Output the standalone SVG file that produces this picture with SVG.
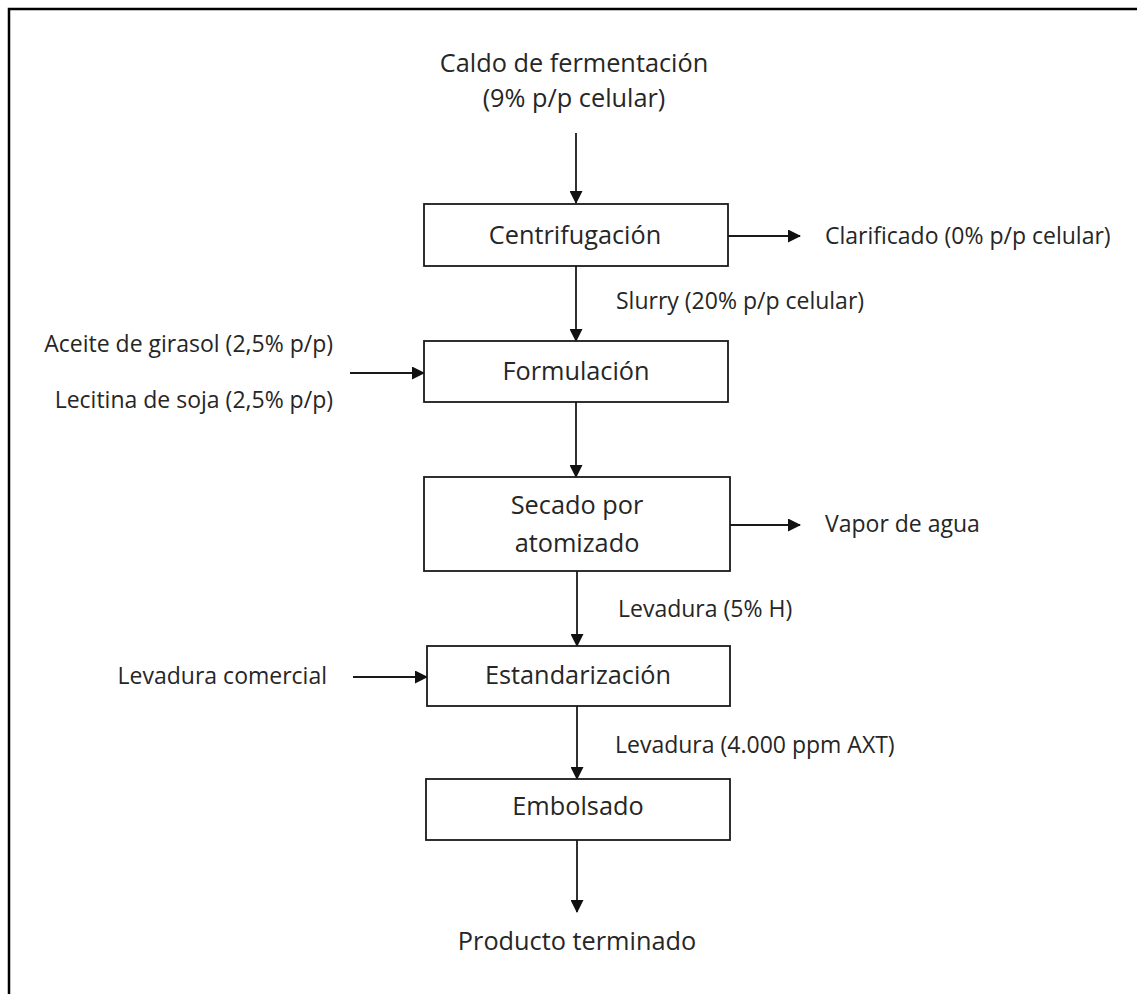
<svg xmlns="http://www.w3.org/2000/svg" width="1137" height="994" viewBox="0 0 1137 994">
<defs>
<marker id="ah" markerWidth="13" markerHeight="13" refX="12" refY="6.5" orient="auto" markerUnits="userSpaceOnUse">
<path d="M0,0 L13,6.5 L0,13 Z" fill="#111"/>
</marker>
<style>
.box{fill:#fff;stroke:#1a1a1a;stroke-width:1.8}
.t{font-family:"Open Sans","DejaVu Sans",sans-serif;fill:#262626}
.b{font-size:25.3px}
.s{font-size:23px}
.c{text-anchor:middle}
.r{text-anchor:end}
.ln{stroke:#1a1a1a;stroke-width:1.8;fill:none;marker-end:url(#ah)}
</style>
</defs>
<rect x="0" y="0" width="1137" height="994" fill="#fff"/>
<path d="M9,994 L9,9 L1137,9" fill="none" stroke="#000" stroke-width="2.5"/>
<g id="connectors">
<line class="ln" x1="576" y1="133" x2="576" y2="203"/>
<line class="ln" x1="728" y1="236" x2="800" y2="236"/>
<line class="ln" x1="576" y1="266" x2="576" y2="341"/>
<line class="ln" x1="350" y1="373" x2="424" y2="373"/>
<line class="ln" x1="576" y1="402" x2="576" y2="477"/>
<line class="ln" x1="730" y1="525" x2="800" y2="525"/>
<line class="ln" x1="577" y1="571" x2="577" y2="646"/>
<line class="ln" x1="353" y1="677" x2="427" y2="677"/>
<line class="ln" x1="577" y1="706" x2="577" y2="779"/>
<line class="ln" x1="577" y1="840" x2="577" y2="912"/>
</g>
<g id="input">
<text class="t b c" x="574" y="72">Caldo de fermentación</text>
<text class="t b c" x="574" y="107">(9% p/p celular)</text>
</g>
<g id="centrifugacion">
<rect class="box" x="424" y="204" width="304" height="62"/>
<text class="t b c" x="575" y="244">Centrifugación</text>
</g>
<g id="clarificado"><text class="t s" x="825" y="244">Clarificado (0% p/p celular)</text></g>
<g id="slurry"><text class="t s" x="616" y="309">Slurry (20% p/p celular)</text></g>
<g id="aditivos">
<text class="t s r" x="333" y="352">Aceite de girasol (2,5% p/p)</text>
<text class="t s r" x="333" y="408">Lecitina de soja (2,5% p/p)</text>
</g>
<g id="formulacion">
<rect class="box" x="424" y="341" width="304" height="61"/>
<text class="t b c" x="576" y="380">Formulación</text>
</g>
<g id="secado">
<rect class="box" x="424" y="477" width="306" height="94"/>
<text class="t b c" x="577" y="514">Secado por</text>
<text class="t b c" x="577" y="552">atomizado</text>
</g>
<g id="vapor"><text class="t s" x="825" y="532">Vapor de agua</text></g>
<g id="levadura5"><text class="t s" x="618" y="617">Levadura (5% H)</text></g>
<g id="levcomercial"><text class="t s r" x="327" y="684">Levadura comercial</text></g>
<g id="estandarizacion">
<rect class="box" x="427" y="646" width="303" height="60"/>
<text class="t b c" x="578" y="684">Estandarización</text>
</g>
<g id="levaduraAXT"><text class="t s" x="615" y="753">Levadura (4.000 ppm AXT)</text></g>
<g id="embolsado">
<rect class="box" x="426" y="779" width="304" height="61"/>
<text class="t b c" x="578" y="815">Embolsado</text>
</g>
<g id="producto"><text class="t b c" x="577" y="950">Producto terminado</text></g>
</svg>
